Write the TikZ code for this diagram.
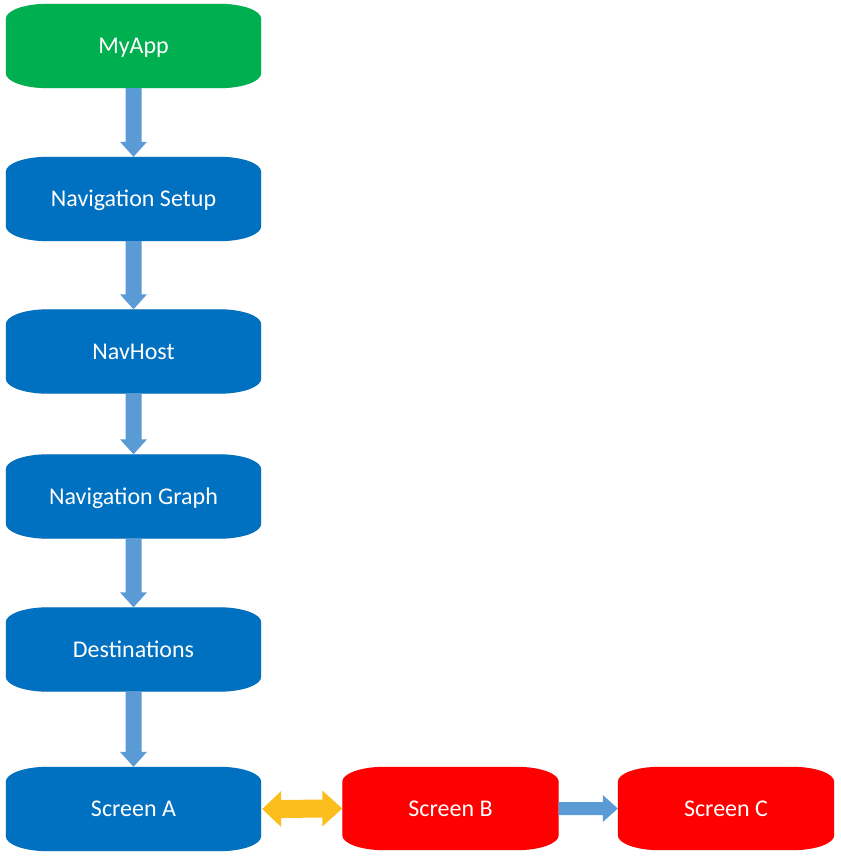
\documentclass[tikz,border=0pt]{standalone}
\usepackage{fontspec}
\setmainfont{Carlito}
\usetikzlibrary{backgrounds}
\definecolor{appgreen}{HTML}{00B050}
\definecolor{boxblue}{HTML}{0070C0}
\definecolor{boxred}{HTML}{FF0000}
\definecolor{arrowblue}{HTML}{5B9BD5}
\definecolor{arrowyellow}{HTML}{FBBE1C}
\newcommand\termshape[3]{% node, colour, extra options
  \fill[#2,#3] ([xshift=42pt]#1.north west) -- ([xshift=-42pt]#1.north east)
    arc[start angle=90,end angle=0,x radius=42pt,y radius=15pt]
    -- ([yshift=15pt]#1.south east)
    arc[start angle=0,end angle=-90,x radius=42pt,y radius=15pt]
    -- ([xshift=42pt]#1.south west)
    arc[start angle=270,end angle=180,x radius=42pt,y radius=15pt]
    -- ([yshift=-15pt]#1.north west)
    arc[start angle=180,end angle=90,x radius=42pt,y radius=15pt] -- cycle;}
\newcommand\termbox[2]{%
  \termshape{#1}{black}{opacity=0.18,xshift=1.5pt,yshift=-2.5pt}%
  \termshape{#1}{#2}{}}
\newcommand\flowdown[2]{%
  \fill[arrowblue] ([xshift=-8pt]#1.south) -- ([xshift=-8pt,yshift=15pt]#2.north)
    -- ([xshift=-13.5pt,yshift=15pt]#2.north) -- (#2.north)
    -- ([xshift=13.5pt,yshift=15pt]#2.north) -- ([xshift=8pt,yshift=15pt]#2.north)
    -- ([xshift=8pt]#1.south) -- cycle;}
\begin{document}
\begin{tikzpicture}[x=1pt,y=1pt,
  flowbox/.style={rectangle,minimum width=255pt,minimum height=84pt,inner sep=0pt,
    text=white,font=\fontsize{24}{28}\selectfont,text depth=0pt,text height=15.5pt},
  screenbox/.style={flowbox,minimum width=216pt,minimum height=83pt}]
\useasboundingbox (0,0) rectangle (840,-858);
\node[flowbox] (app) at (133.5,-46) {MyApp};
\node[flowbox] (setup) at (133.5,-199) {Navigation Setup};
\node[flowbox] (host) at (133.5,-351.5) {NavHost};
\node[flowbox] (graph) at (133.5,-496.5) {Navigation Graph};
\node[flowbox] (dest) at (133.5,-649.5) {Destinations};
\node[flowbox] (sa) at (133.5,-809) {Screen A};
\node[screenbox] (sb) at (450.5,-808.5) {Screen B};
\node[screenbox] (sc) at (726,-808.5) {Screen C};
\begin{scope}[on background layer]
  \termbox{app}{appgreen}
  \termbox{setup}{boxblue}
  \termbox{host}{boxblue}
  \termbox{graph}{boxblue}
  \termbox{dest}{boxblue}
  \termbox{sa}{boxblue}
  \termbox{sb}{boxred}
  \termbox{sc}{boxred}
  \flowdown{app}{setup}
  \flowdown{setup}{host}
  \flowdown{host}{graph}
  \flowdown{graph}{dest}
  \flowdown{dest}{sa}
  % double arrow A <-> B
  \fill[arrowyellow] ([xshift=1pt]sa.east) -- ([xshift=20pt,yshift=18pt]sa.east)
    -- ([xshift=20pt,yshift=9pt]sa.east) -- ([xshift=-20pt,yshift=9pt]sb.west)
    -- ([xshift=-20pt,yshift=18pt]sb.west) -- (sb.west)
    -- ([xshift=-20pt,yshift=-18pt]sb.west) -- ([xshift=-20pt,yshift=-9pt]sb.west)
    -- ([xshift=20pt,yshift=-9pt]sa.east) -- ([xshift=20pt,yshift=-18pt]sa.east) -- cycle;
  % arrow B -> C
  \fill[arrowblue] ([yshift=6.5pt]sb.east) -- ([xshift=-15pt,yshift=6.5pt]sc.west)
    -- ([xshift=-15pt,yshift=13.5pt]sc.west) -- (sc.west)
    -- ([xshift=-15pt,yshift=-13.5pt]sc.west) -- ([xshift=-15pt,yshift=-6.5pt]sc.west)
    -- ([yshift=-6.5pt]sb.east) -- cycle;
\end{scope}
\end{tikzpicture}
\end{document}
